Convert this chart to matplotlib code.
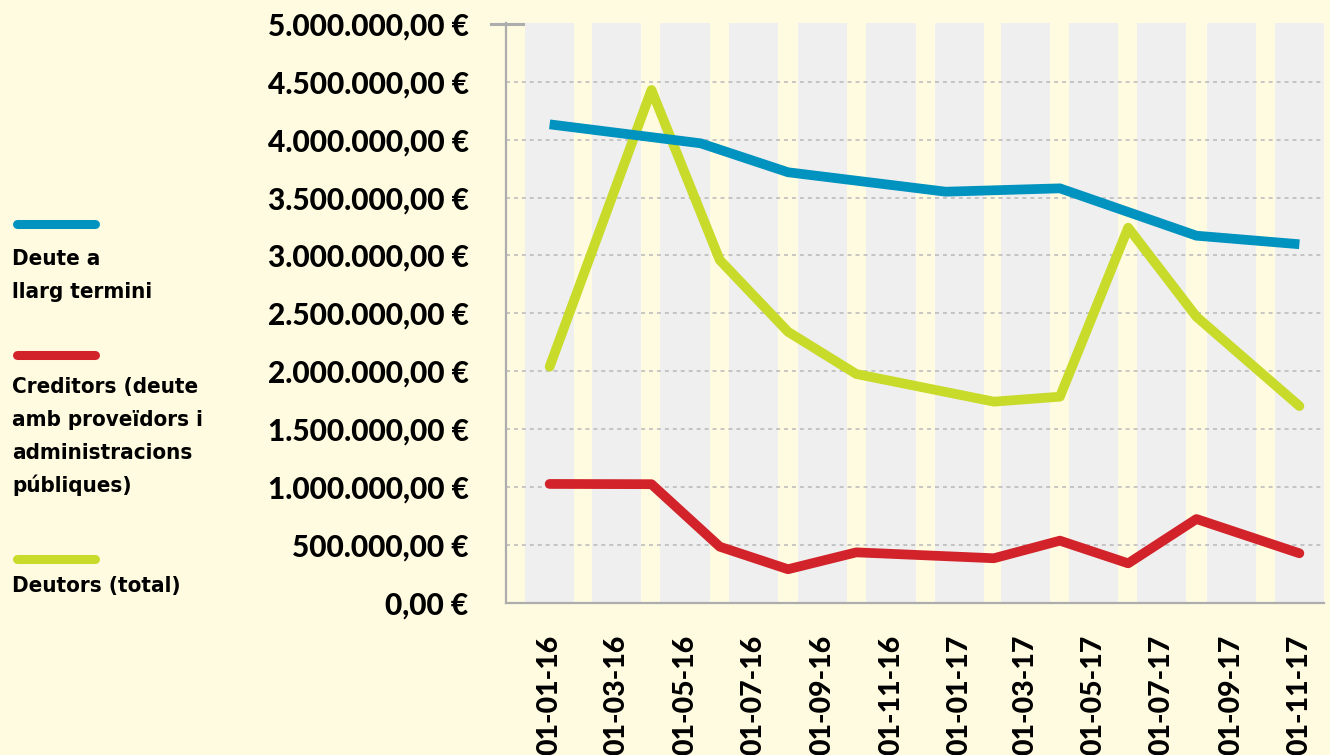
import datetime as dt
import matplotlib
matplotlib.use('Agg')
import matplotlib.pyplot as plt
import matplotlib.dates as mdates
from matplotlib.lines import Line2D

# data (EUR)
dates_deute = ['2016-01-01', '2016-05-15', '2016-08-01', '2016-12-20',
               '2017-04-01', '2017-08-01', '2017-11-01']
deute = [4133000, 3969000, 3719000, 3551000, 3580000, 3171000, 3097000]

dates_mes = ['2016-01-01', '2016-04-01', '2016-06-01', '2016-08-01', '2016-10-01',
             '2017-02-01', '2017-04-01', '2017-06-01', '2017-08-01', '2017-11-01']
creditors = [1026000, 1024000, 484000, 289000, 435000,
             384000, 536000, 340000, 723000, 427000]
deutors = [2039000, 4430000, 2961000, 2341000, 1976000,
           1737000, 1780000, 3240000, 2471000, 1699000]

tick_dates = ['2016-01-01', '2016-03-01', '2016-05-01', '2016-07-01',
              '2016-09-01', '2016-11-01', '2017-01-01', '2017-03-01',
              '2017-05-01', '2017-07-01', '2017-09-01', '2017-11-01']
y_ticks = [0, 500000, 1000000, 1500000, 2000000, 2500000,
           3000000, 3500000, 4000000, 4500000, 5000000]

labels = [['Deute a', 'llarg termini'],
          ['Creditors (deute', 'amb proveïdors i', 'administracions', 'públiques)'],
          ['Deutors (total)']]

BG = '#FFFBE1'
BAND = '#EFEFEF'
BLUE = '#0093BF'
RED = '#D2232A'
GREEN = '#C8DB2A'


def d(s):
    return dt.datetime.strptime(s, '%Y-%m-%d')


def euro(v):
    s = f'{v:,.2f}'.replace(',', 'X').replace('.', ',').replace('X', '.')
    return s + ' €'


W, H = 1330, 755
fig = plt.figure(figsize=(W / 100, H / 100), dpi=100, facecolor=BG)
ax = fig.add_axes([506 / W, (H - 602.7) / H, (1324 - 506) / W, (602.7 - 23) / H])
ax.set_facecolor(BG)

t0 = d('2016-01-01')
ax.set_xlim(t0 - dt.timedelta(days=39), t0 + dt.timedelta(days=692))
ax.set_ylim(0, 5008600)

# grey column bands
for t in tick_dates:
    ax.axvspan(d(t) - dt.timedelta(days=22), d(t) + dt.timedelta(days=22),
               color=BAND, lw=0, zorder=0)

for v in y_ticks[1:-1]:
    ax.axhline(v, color='#B8B8B8', lw=1.1, dashes=(2.6, 2.6), zorder=1)

ax.plot([d(s) for s in dates_mes], deutors, color=GREEN, lw=7,
        solid_capstyle='round', solid_joinstyle='round', zorder=2)
ax.plot([d(s) for s in dates_mes], creditors, color=RED, lw=7,
        solid_capstyle='round', solid_joinstyle='round', zorder=3)
ax.plot([d(s) for s in dates_deute], deute, color=BLUE, lw=7,
        solid_capstyle='butt', solid_joinstyle='miter', zorder=4)

for side in ['top', 'right']:
    ax.spines[side].set_visible(False)
for side in ['left', 'bottom']:
    ax.spines[side].set_color('#ADADAD')
    ax.spines[side].set_linewidth(1.6)

# little cap at the top of the y axis
ax.plot([-0.0183, 0.0208], [5000000, 5000000], color='#ADADAD', lw=2.2,
        transform=ax.get_yaxis_transform(), clip_on=False)

ax.set_yticks(y_ticks)
ax.set_yticklabels([euro(v) for v in y_ticks])
ax.set_xticks([d(t) for t in tick_dates])
ax.xaxis.set_major_formatter(mdates.DateFormatter('%d-%m-%y'))
ax.tick_params(length=0)
ax.tick_params(axis='y', pad=27)
ax.tick_params(axis='x', pad=23)
for lab in ax.get_yticklabels():
    lab.set_fontfamily('Lato')
    lab.set_fontweight(900)
    lab.set_fontsize(21.5)
for lab in ax.get_xticklabels():
    lab.set_fontfamily('Lato')
    lab.set_fontweight(900)
    lab.set_fontsize(20.5)
    lab.set_rotation(90)

# legend on the left, one text per line
leg_y = [224, 355, 559]
txt_y = [265, 393, 592]
for col, ly, ty, lines in zip([BLUE, RED, GREEN], leg_y, txt_y, labels):
    fig.add_artist(Line2D([16.5 / W, 94.5 / W], [1 - ly / H, 1 - ly / H],
                          color=col, lw=6.5, solid_capstyle='round'))
    for i, line in enumerate(lines):
        fig.text(12 / W, 1 - (ty + 33 * i) / H, line, family='DejaVu Sans',
                 stretch='condensed', weight='bold', fontsize=16,
                 va='baseline', ha='left')

fig.savefig('out.png', dpi=100, facecolor=BG)
